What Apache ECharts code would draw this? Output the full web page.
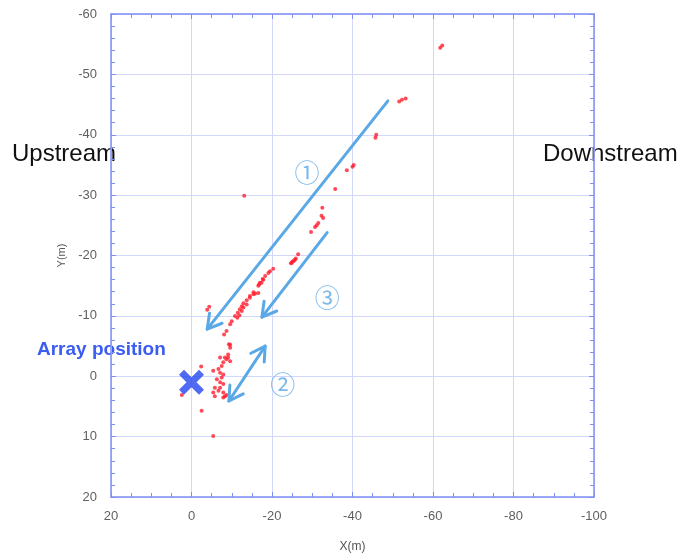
<!DOCTYPE html>
<html>
<head>
<meta charset="utf-8">
<title>Source positions relative to the array</title>
<script src="https://cdn.jsdelivr.net/npm/echarts@6/dist/echarts.min.js"></script>
<style>
  html, body { margin: 0; padding: 0; background: #fff; }
  #chart { width: 682px; height: 558px; }
</style>
</head>
<body>
<div id="chart"></div>
<script>
// Axis ranges and tick spacing (X runs from upstream on the left to downstream on the right)
const xRange = [-100, 20];
const yRange = [-60, 20];
const xStep = 20;
const yStep = 10;

// Estimated source locations (X, Y in metres)
const sourcePoints = [
  [-61.8, -54.4], [-62.3, -54.8],
  [-51.6, -45.5], [-52.3, -45.8], [-53.2, -46.0],
  [-45.7, -39.5], [-45.9, -40.0],
  [-38.6, -34.1], [-40.0, -34.7], [-40.3, -35.0],
  [-35.7, -31.0],
  [-13.1, -29.9],
  [-32.5, -27.9], [-32.3, -26.6], [-32.7, -26.2], [-31.5, -25.4], [-31.1, -25.0], [-30.7, -24.7], [-29.7, -23.9],
  [-26.5, -20.2], [-25.9, -19.5], [-25.7, -19.3], [-25.4, -19.1], [-25.1, -19.0], [-24.9, -18.8], [-24.7, -18.7],
  [-20.3, -17.8], [-19.5, -17.4], [-19.1, -17.1], [-18.3, -16.6], [-17.7, -16.1], [-17.8, -16.0],
  [-17.4, -15.5], [-17.0, -15.5], [-16.8, -15.2], [-16.6, -15.0],
  [-16.6, -13.8], [-15.8, -13.7], [-15.4, -13.9], [-15.4, -13.6],
  [-14.5, -13.3], [-14.5, -13.0], [-13.7, -12.6], [-13.7, -11.9], [-12.9, -12.1], [-12.9, -11.4],
  [-12.5, -11.6], [-12.5, -10.8], [-12.0, -11.1], [-11.9, -10.1], [-11.5, -10.5], [-11.4, -9.7],
  [-10.8, -10.0], [-10.0, -9.1], [-9.6, -8.6], [-8.7, -7.5], [-8.1, -6.9],
  [-4.4, -11.5], [-3.9, -11.0],
  [-9.3, -5.3], [-9.6, -4.7], [-9.6, -5.2], [-9.1, -3.6],
  [-7.1, -3.1], [-8.3, -3.1], [-8.7, -2.8], [-9.1, -3.1], [-9.6, -2.5], [-7.9, -2.3], [-7.5, -1.7],
  [-6.7, -1.2], [-5.4, -0.9], [-7.1, -0.6], [-7.9, -0.3], [-7.5, 0.2], [-6.3, 0.5], [-7.1, 1.0],
  [-7.9, 1.3], [-5.8, 1.9], [-7.1, 1.9], [-6.7, 2.4], [-5.4, 2.7], [-7.9, 2.7], [-5.8, 3.3],
  [-8.3, 3.3], [-7.9, 3.5], [-8.7, 3.1],
  [-2.4, -1.6], [2.4, 3.1], [-2.5, 5.7], [-5.4, 9.9]
];

// Array location
const arrayPosition = [[0, 1.0]];

// Movement arrows: start and end in data coordinates, and whether both ends get a head
const arrowPaths = [
  { from: [-48.8, -45.6], to: [-3.9, -7.8], both: false },
  { from: [-33.7, -23.8], to: [-17.5, -9.8], both: false },
  { from: [-18.3, -5.0], to: [-9.3, 4.1], both: true }
];

// Circled labels beside the arrows
const arrowLabels = [
  { text: '①', at: [-28.7, -33.7] },
  { text: '②', at: [-22.7, 1.3] },
  { text: '③', at: [-33.7, -13.1] }
];

const axisBlue = '#7f8ff2';
const gridBlue = '#d3d7fa';
const arrowBlue = '#5aa8e6';

const chart = echarts.init(document.getElementById('chart'));

function chevron(tip, tail, len) {
  const ang = Math.atan2(tail[1] - tip[1], tail[0] - tip[0]);
  const spread = Math.PI / 6;
  return [
    [tip[0] + len * Math.cos(ang + spread), tip[1] + len * Math.sin(ang + spread)],
    tip,
    [tip[0] + len * Math.cos(ang - spread), tip[1] + len * Math.sin(ang - spread)]
  ];
}

const baseAxis = {
  type: 'value',
  axisLine: { show: true, onZero: false, lineStyle: { color: axisBlue, width: 1.5 } },
  axisTick: { show: true, inside: true, length: 5, lineStyle: { color: axisBlue } },
  minorTick: { show: true, length: 4, lineStyle: { color: axisBlue } },
  splitLine: { show: true, lineStyle: { color: gridBlue, width: 1 } },
  axisLabel: { color: '#5f5f5f', fontSize: 13, fontFamily: 'Liberation Sans' }
};

chart.setOption({
  animation: false,
  backgroundColor: '#fff',
  grid: { left: 111, right: 88, top: 14, bottom: 60 },
  xAxis: [
    Object.assign({}, baseAxis, {
      min: xRange[0], max: xRange[1], interval: xStep, inverse: true, position: 'bottom',
      minorTick: Object.assign({}, baseAxis.minorTick, { splitNumber: 4 }),
      axisLabel: Object.assign({}, baseAxis.axisLabel, { margin: 13 }),
      name: 'X(m)', nameLocation: 'middle', nameGap: 44,
      nameTextStyle: { color: '#555', fontSize: 12, fontFamily: 'Liberation Sans' }
    }),
    Object.assign({}, baseAxis, {
      min: xRange[0], max: xRange[1], interval: xStep, inverse: true, position: 'top',
      minorTick: Object.assign({}, baseAxis.minorTick, { splitNumber: 4 }),
      axisLabel: { show: false }, splitLine: { show: false }
    })
  ],
  yAxis: [
    Object.assign({}, baseAxis, {
      min: yRange[0], max: yRange[1], interval: yStep, inverse: true, position: 'left',
      minorTick: Object.assign({}, baseAxis.minorTick, { splitNumber: 5 }),
      axisLabel: Object.assign({}, baseAxis.axisLabel, { margin: 14 }),
      name: 'Y(m)', nameLocation: 'middle', nameGap: 44, nameRotate: 90,
      nameTextStyle: { color: '#555', fontSize: 11, fontFamily: 'Liberation Sans' }
    }),
    Object.assign({}, baseAxis, {
      min: yRange[0], max: yRange[1], interval: yStep, inverse: true, position: 'right',
      minorTick: Object.assign({}, baseAxis.minorTick, { splitNumber: 5 }),
      axisLabel: { show: false }, splitLine: { show: false }
    })
  ],
  series: [
    {
      name: 'sources',
      type: 'scatter',
      data: sourcePoints,
      symbolSize: 4,
      itemStyle: { color: '#ff1e2e' },
      z: 3
    },
    {
      name: 'arrows',
      type: 'custom',
      data: arrowPaths.map(a => [a.from[0], a.from[1], a.to[0], a.to[1], a.both ? 1 : 0]),
      renderItem: function (params, api) {
        const p0 = api.coord([api.value(0), api.value(1)]);
        const p1 = api.coord([api.value(2), api.value(3)]);
        const style = { stroke: arrowBlue, lineWidth: 3, fill: null, lineCap: 'round', lineJoin: 'round' };
        const children = [
          { type: 'line', shape: { x1: p0[0], y1: p0[1], x2: p1[0], y2: p1[1] }, style: style },
          { type: 'polyline', shape: { points: chevron(p1, p0, 16) }, style: style }
        ];
        if (api.value(4)) {
          children.push({ type: 'polyline', shape: { points: chevron(p0, p1, 16) }, style: style });
        }
        return { type: 'group', children: children };
      },
      z: 4
    },
    {
      name: 'arrow labels',
      type: 'scatter',
      data: arrowLabels.map(l => ({ value: l.at, name: l.text })),
      symbolSize: 0,
      label: {
        show: true, position: 'inside', formatter: '{b}',
        color: arrowBlue, fontSize: 25, fontFamily: 'Noto Sans CJK JP'
      },
      z: 4
    },
    {
      name: 'array',
      type: 'scatter',
      data: arrayPosition,
      symbol: 'path://M0,4 L4,0 L10,6 L16,0 L20,4 L14,10 L20,16 L16,20 L10,14 L4,20 L0,16 L6,10 Z',
      symbolSize: 25,
      itemStyle: { color: '#2645f0' },
      z: 5
    }
  ],
  graphic: [
    {
      type: 'text', left: 12, top: 142,
      style: { text: 'Upstream', fill: '#111', fontSize: 24, fontFamily: 'Liberation Sans' }
    },
    {
      type: 'text', left: 543, top: 142,
      style: { text: 'Downstream', fill: '#111', fontSize: 24, fontFamily: 'Liberation Sans' }
    },
    {
      type: 'text', left: 37, top: 340,
      style: { text: 'Array position', fill: '#3a5cf0', fontSize: 19, fontWeight: 'bold', fontFamily: 'Liberation Sans' }
    }
  ]
});
</script>
</body>
</html>
